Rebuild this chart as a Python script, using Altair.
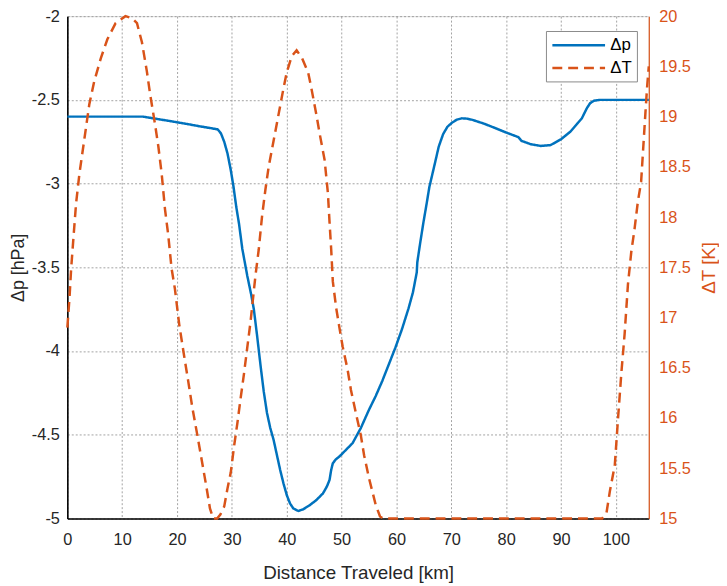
import altair as alt
import pandas as pd

# ---- data ----
dist_p = [0, 5, 10, 13.8, 16, 19, 22, 24, 26, 27.4, 28.0, 28.6, 29.2, 29.8, 30.3, 30.8,
          31.3, 31.9, 32.8, 33.5, 34.0, 34.6, 35.2, 35.8, 36.4, 37.0, 37.6, 38.2, 38.8,
          39.4, 40.0, 40.6, 41.2, 42.1, 43.0, 44.2, 45.4, 46.6, 47.3, 47.8, 48.1, 48.4,
          49.0, 49.6, 50.8, 52.0, 53.5, 55.0, 56.2, 57.4, 58.6, 59.8, 61.0, 62.2, 63.0,
          63.7, 63.8, 64.3, 64.9, 65.5, 66.0, 67.0, 67.7, 68.5, 69.3, 70.1, 71.0, 71.9,
          72.8, 73.7, 75.8, 77.9, 80.0, 82.2, 82.8, 84.5, 86.3, 88.1, 90.0, 91.7, 93.0,
          93.8, 94.7, 95.3, 96.0, 97.0, 106]
delta_p = [-2.60, -2.60, -2.60, -2.60, -2.612, -2.628, -2.645, -2.657, -2.668, -2.676,
           -2.70, -2.75, -2.82, -2.92, -3.02, -3.14, -3.24, -3.39, -3.55, -3.66, -3.75,
           -3.91, -4.08, -4.24, -4.37, -4.46, -4.53, -4.62, -4.71, -4.79, -4.86, -4.91,
           -4.94, -4.955, -4.945, -4.92, -4.89, -4.85, -4.81, -4.77, -4.71, -4.67, -4.645,
           -4.63, -4.59, -4.55, -4.46, -4.35, -4.27, -4.18, -4.08, -3.98, -3.87, -3.745,
           -3.65, -3.53, -3.47, -3.36, -3.235, -3.12, -3.02, -2.88, -2.78, -2.705, -2.66,
           -2.637, -2.618, -2.61, -2.612, -2.618, -2.64, -2.667, -2.695, -2.722, -2.745,
           -2.765, -2.775, -2.77, -2.735, -2.69, -2.64, -2.61, -2.55, -2.52, -2.505,
           -2.50, -2.50]

dist_t = [0, 0.4, 0.7, 1.15, 1.6, 2.2, 2.8, 3.4, 4.0, 4.9, 6.1, 7.3, 8.8, 10.6, 11.8,
          12.7, 13.6, 14.5, 15.1, 16.0, 16.6, 17.2, 17.8, 18.4, 19.0, 19.6, 20.4, 21.2,
          22.0, 22.8, 23.7, 24.6, 25.4, 26.0, 26.6, 27.3, 27.9, 28.6, 29.2, 29.8, 30.4,
          31.0, 31.6, 32.2, 32.8, 33.4, 34.3, 34.9, 35.5, 36.1, 36.7, 37.6, 38.5, 39.4,
          40.0, 40.9, 41.8, 42.8, 43.9, 44.5, 45.4, 46.0, 46.9, 47.5, 47.8, 48.1, 48.4,
          49.0, 49.6, 50.2, 51.1, 51.7, 52.6, 53.5, 54.1, 55.0, 56.2, 57.0, 57.6, 97.5,
          98.3, 98.9, 99.8, 100.4, 101.0, 101.6, 102.2, 102.8, 103.4, 104.0, 104.6, 105.0,
          105.4, 105.7, 106.0]
delta_t = [16.9, 17.2, 17.49, 17.82, 18.14, 18.43, 18.66, 18.89, 19.12, 19.35, 19.58,
           19.77, 19.93, 20.0, 19.98, 19.93, 19.74, 19.45, 19.22, 18.92, 18.7, 18.43,
           18.08, 17.82, 17.49, 17.29, 16.93, 16.65, 16.38, 16.1, 15.83, 15.55, 15.3,
           15.1, 15.0, 15.0, 15.04, 15.12, 15.3, 15.46, 15.72, 15.95, 16.2, 16.44, 16.7,
           16.96, 17.42, 17.68, 18.01, 18.27, 18.5, 18.76, 19.02, 19.28, 19.44, 19.6,
           19.66, 19.58, 19.44, 19.28, 19.02, 18.83, 18.57, 18.24, 17.95, 17.68, 17.36,
           17.1, 16.9, 16.71, 16.48, 16.28, 16.05, 15.83, 15.63, 15.4, 15.14, 15.02, 15.0,
           15.0, 15.06, 15.27, 15.53, 16.0, 16.45, 16.84, 17.33, 17.65, 17.88, 18.15,
           18.35, 18.7, 19.05, 19.3, 19.5]

series_names = ["Δp", "ΔT"]
x_ticks = [0, 10, 20, 30, 40, 50, 60, 70, 80, 90, 100]
left_ticks = [-5, -4.5, -4, -3.5, -3, -2.5, -2]
right_ticks = [15, 15.5, 16, 16.5, 17, 17.5, 18, 18.5, 19, 19.5, 20]

BLUE = "#0072BD"
ORANGE = "#D95319"
TXT = "#262626"
FONT = "Liberation Sans"

df_p = pd.DataFrame({"x": dist_p, "y": delta_p, "series": series_names[0]})
df_t = pd.DataFrame({"x": dist_t, "y": delta_t, "series": series_names[1]})

color_scale = alt.Scale(domain=series_names, range=[BLUE, ORANGE])
dash_scale = alt.Scale(domain=series_names, range=[[1, 0], [10, 6]])

legend = alt.Legend(
    title=None, orient="none", legendX=484, legendY=15,
    symbolType="M-1,0H5.66", symbolSize=256, symbolStrokeWidth=2.5,
    labelOffset=41, padding=5, rowPadding=5,
    strokeColor="#8a8a8a", fillColor="white",
    labelFontSize=17, labelColor="black", labelFont=FONT,
)

x_enc = alt.X(
    "x:Q",
    scale=alt.Scale(domain=[0, 106], nice=False, zero=False),
    axis=alt.Axis(
        values=x_ticks, title="Distance Traveled [km]", ticks=False, labelFlush=False,
        labelPadding=13, labelFontSize=16.5, labelColor=TXT, labelFont=FONT,
        titleFontSize=19, titleFontWeight="normal", titleColor=TXT, titleFont=FONT,
        titlePadding=16, domainColor="black", domainWidth=1.6,
        grid=True, gridColor="#8c8c8c", gridDash=[2, 2], gridWidth=1, gridOpacity=0.8,
    ),
)

left = alt.Chart(df_p).mark_line(strokeWidth=2.5).encode(
    x=x_enc,
    y=alt.Y(
        "y:Q",
        scale=alt.Scale(domain=[-5, -2], nice=False, zero=False),
        axis=alt.Axis(
            orient="left", values=left_ticks, labelExpr="toString(datum.value)",
            title="Δp [hPa]", ticks=False, labelPadding=8, labelFontSize=16.5,
            labelFlush=False,
            labelColor=TXT, labelFont=FONT, titleFontSize=18, titleFontWeight="normal",
            titleColor=TXT, titleFont=FONT, titlePadding=4,
            domainColor="black", domainWidth=1.6,
            grid=True, gridColor="#8c8c8c", gridDash=[2, 2], gridWidth=1, gridOpacity=0.8,
        ),
    ),
    color=alt.Color("series:N", scale=color_scale, legend=legend),
    strokeDash=alt.StrokeDash("series:N", scale=dash_scale, legend=legend),
)

right = alt.Chart(df_t).mark_line(strokeWidth=2.5).encode(
    x=x_enc,
    y=alt.Y(
        "y:Q",
        scale=alt.Scale(domain=[15, 20], nice=False, zero=False),
        axis=alt.Axis(
            orient="right", values=right_ticks, labelExpr="toString(datum.value)",
            title="ΔT [K]", titleAngle=270, ticks=False, labelPadding=10,
            labelFlush=False,
            labelFontSize=16.5, labelColor=ORANGE, labelFont=FONT,
            titleFontSize=19, titleFontWeight="normal", titleColor=ORANGE,
            titleFont=FONT, titlePadding=28, domainColor=ORANGE, domainWidth=1.2,
            grid=False,
        ),
    ),
    color=alt.Color("series:N", scale=color_scale, legend=legend),
    strokeDash=alt.StrokeDash("series:N", scale=dash_scale, legend=legend),
)

chart = (
    alt.layer(left, right)
    .resolve_scale(y="independent")
    .properties(
        width=588, height=508,
        autosize=alt.AutoSizeParams(type="none"),
        padding={"left": 60, "top": 5, "right": 71, "bottom": 65},
    )
    .configure_view(stroke="black", strokeWidth=1.2)
    .configure(background="white")
)

chart.save("out.html", embed_options={"renderer": "svg", "actions": False})
